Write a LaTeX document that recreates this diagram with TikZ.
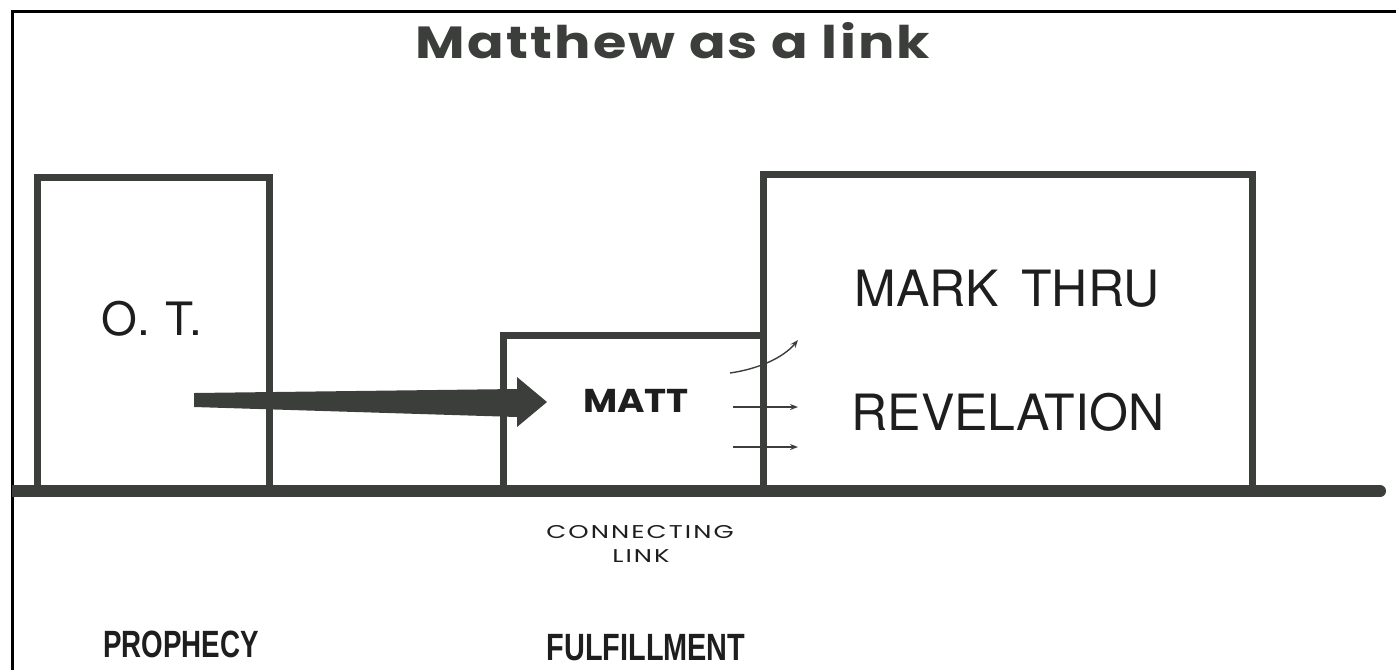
\documentclass[tikz,border=0pt]{standalone}
\usepackage{fontspec}
\usepackage{graphicx}
\setmainfont{TeX Gyre Heros}
\newfontfamily\titlefont{Poppins}[LetterSpace=4]
\newfontfamily\geofont{Poppins}
\newfontfamily\geowide{Poppins}[LetterSpace=8]
\newfontfamily\condfont{Liberation Sans}
\usetikzlibrary{arrows.meta}
\definecolor{ink}{HTML}{3B3E3B}
\definecolor{txt}{HTML}{1E1E1E}
\tikzset{
  wallbox/.style={draw=ink, line width=7pt, inner sep=0pt, fill=none},
  thinarrow/.style={draw=ink, line width=1.4pt, -{Stealth[length=8pt,width=6pt]}},
  lbl/.style={anchor=base, inner sep=0pt, text=txt},
}
\begin{document}
\begin{tikzpicture}[x=1pt,y=-1pt]
\useasboundingbox (0,0) rectangle (1396,670);
% frame
\draw[line width=3.5pt, black] (12.5,670) -- (12.5,11.5) -- (1396,11.5);
% title
\node[lbl, text=ink, font=\titlefont\bfseries\fontsize{45}{45}\selectfont] (title) at (673,58) {\scalebox{1.2}[1]{Matthew as a link}};
% boxes
\node[wallbox, minimum width=232pt, minimum height=314pt] (ot) at (153,334) {};
\node[wallbox, minimum width=489pt, minimum height=317pt] (rest) at (1007.5,332.5) {};
\node[wallbox, minimum width=260pt, minimum height=156pt] (matt) at (633,413) {};
% ground line
\coordinate (g1) at (12,491);
\coordinate (g2) at (1380,491);
\draw[ink, line width=12pt] (g1) -- (g2);
\fill[ink] (g2) circle (6pt);
% big arrow
\coordinate (arrtail) at (194,400);
\coordinate (arrtip) at (547,402);
\fill[ink] (194,393) -- (517,389) -- (517,377) -- (arrtip) -- (517,427) -- (517,417) -- (194,407) -- cycle;
% small arrows
\coordinate (s1) at (730,373); \coordinate (e1) at (798,340);
\coordinate (s2) at (733,407); \coordinate (e2) at (798,407);
\coordinate (s3) at (733,447); \coordinate (e3) at (798,447);
\draw[thinarrow] (s1) .. controls (758,369) and (783,358) .. (e1);
\draw[thinarrow] (s2) -- (e2);
\draw[thinarrow] (s3) -- (e3);
% texts
\node[lbl, font=\fontsize{46}{46}\selectfont] (ottxt) at (152,335) {O.\hspace{0.33em}T.};
\node[lbl, font=\geofont\bfseries\fontsize{33}{33}\selectfont] (matttxt) at (636,412) {\scalebox{1.13}[1]{MATT}};
\node[lbl, font=\fontsize{50}{50}\selectfont] (mark) at (1007,306) {MARK\hspace{0.45em}THRU};
\node[lbl, font=\fontsize{50}{50}\selectfont] (rev) at (1008,430) {REVELATION};
\node[lbl, font=\geowide\fontsize{18.5}{18.5}\selectfont] (conn) at (640,538) {\scalebox{1.4}[1]{CONNECTING}};
\node[lbl, font=\geowide\fontsize{18.5}{18.5}\selectfont] (link) at (641,562) {\scalebox{1.4}[1]{LINK}};
\node[lbl, font=\condfont\bfseries\fontsize{38}{38}\selectfont] (proph) at (181,657) {\scalebox{0.73}[1]{PROPHECY}};
\node[lbl, font=\condfont\bfseries\fontsize{38}{38}\selectfont] (fulf) at (646,660) {\scalebox{0.76}[1]{FULFILLMENT}};
\end{tikzpicture}
\end{document}
